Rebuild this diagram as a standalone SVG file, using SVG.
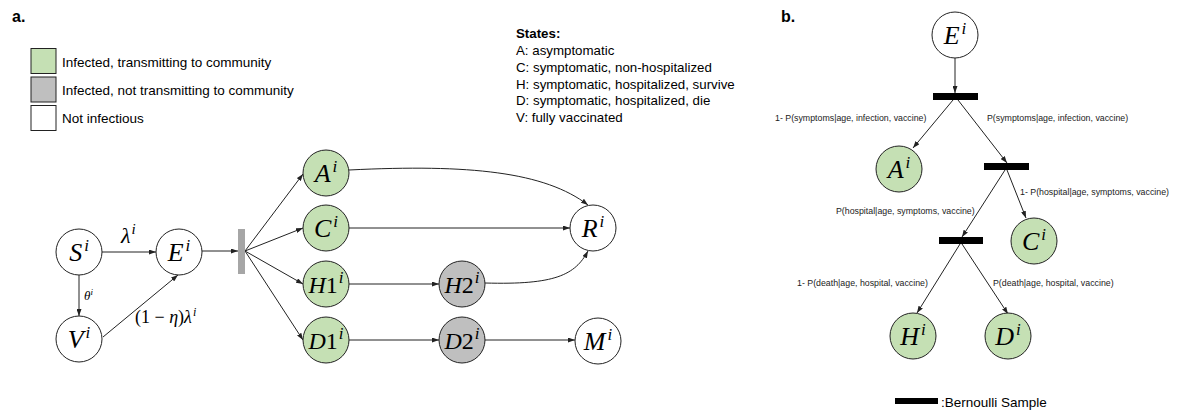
<svg xmlns="http://www.w3.org/2000/svg" width="1181" height="410" viewBox="0 0 1181 410">
<style>
.lbl{font-family:"Liberation Sans",Arial,sans-serif;fill:#000}
.leg{font-size:13.5px}
.st{font-size:13.3px}
.small{font-size:8.8px;fill:#222}
.bold{font-weight:bold}
.node{stroke:#222;stroke-width:1}
.g{fill:#c5e0b4}
.gr{fill:#bfbfbf}
.w{fill:#fff}
.m{font-family:"Liberation Serif","DejaVu Serif",serif;font-style:italic;font-size:26px;fill:#000}
.s{font-size:17px}
.up{font-style:normal}
.edge{fill:none;stroke:#222;stroke-width:1;marker-end:url(#ah)}
.bar{fill:#000}
</style>
<defs>
<marker id="ah" markerWidth="7" markerHeight="5" refX="7" refY="2.5" orient="auto" markerUnits="userSpaceOnUse">
<path d="M0,0 L7,2.5 L0,5 z" fill="#222"/>
</marker>
</defs>
<rect width="1181" height="410" fill="#fff"/>

<!-- Panel labels -->
<text class="lbl bold" x="12" y="22" font-size="16">a.</text>
<text class="lbl bold" x="781" y="22" font-size="16">b.</text>

<!-- Legend -->
<g id="legend">
<rect x="31" y="48.5" width="25" height="25" class="node g" stroke="#444"/>
<rect x="31" y="77" width="25" height="25" class="node gr" stroke="#444"/>
<rect x="31" y="105.5" width="25" height="25" class="node w" stroke="#444"/>
<text class="lbl leg" x="62" y="67">Infected, transmitting to community</text>
<text class="lbl leg" x="62" y="95">Infected, not transmitting to community</text>
<text class="lbl leg" x="62" y="123">Not infectious</text>
</g>

<!-- States -->
<g id="states">
<text class="lbl st bold" x="516" y="38">States:</text>
<text class="lbl st" x="516" y="55">A: asymptomatic</text>
<text class="lbl st" x="516" y="72">C: symptomatic, non-hospitalized</text>
<text class="lbl st" x="516" y="88.5">H: symptomatic, hospitalized, survive</text>
<text class="lbl st" x="516" y="105">D: symptomatic, hospitalized, die</text>
<text class="lbl st" x="516" y="122">V: fully vaccinated</text>
</g>

<!-- Panel a connectors -->
<g id="connectors-a">
<line class="edge" x1="102" y1="252" x2="156" y2="252"/>
<line class="edge" x1="79" y1="275" x2="79" y2="316"/>
<line class="edge" x1="103" y1="337" x2="178" y2="275"/>
<line class="edge" x1="202" y1="251" x2="238" y2="251"/>
<line class="edge" x1="245" y1="251" x2="303" y2="174"/>
<line class="edge" x1="245" y1="251" x2="303" y2="228"/>
<line class="edge" x1="245" y1="251" x2="303" y2="284"/>
<line class="edge" x1="245" y1="251" x2="303" y2="340"/>
<path class="edge" d="M349,170 C470,164 545,172 588,205"/>
<line class="edge" x1="349" y1="228" x2="570" y2="228"/>
<line class="edge" x1="349" y1="284" x2="439" y2="284"/>
<path class="edge" d="M485,283 C555,285 575,275 588,251"/>
<line class="edge" x1="349" y1="340" x2="439" y2="340"/>
<line class="edge" x1="485" y1="340" x2="575" y2="340"/>
<text class="m" x="121" y="243" style="font-size:22px">λ<tspan dx="1" dy="-9" style="font-size:15px">i</tspan></text>
<text class="m" x="84" y="300" style="font-size:13px">θ<tspan dy="-5" style="font-size:9px">i</tspan></text>
<text class="m" x="135" y="323" style="font-size:18px"><tspan class="up">(1 − </tspan>η<tspan class="up">)</tspan>λ<tspan dx="1" dy="-7" style="font-size:12px">i</tspan></text>
</g>

<!-- Transition bar -->
<g id="split-bar"><rect x="238" y="229" width="7" height="45" fill="#a6a6a6"/></g>

<!-- Panel a nodes -->
<g id="S"><circle cx="79" cy="252" r="23" class="node w"/><text class="m" x="79" y="261" text-anchor="middle">S<tspan class="s" dx="2" dy="-10">i</tspan></text></g>
<g id="E"><circle cx="179" cy="252" r="23" class="node w"/><text class="m" x="179" y="261" text-anchor="middle">E<tspan class="s" dx="2" dy="-10">i</tspan></text></g>
<g id="V"><circle cx="79" cy="339" r="23" class="node w"/><text class="m" x="79" y="348" text-anchor="middle">V<tspan class="s" dx="2" dy="-10">i</tspan></text></g>
<g id="A"><circle cx="326" cy="173" r="23" class="node g"/><text class="m" x="326" y="182" text-anchor="middle">A<tspan class="s" dx="2" dy="-10">i</tspan></text></g>
<g id="C"><circle cx="326" cy="228" r="23" class="node g"/><text class="m" x="326" y="237" text-anchor="middle">C<tspan class="s" dx="2" dy="-10">i</tspan></text></g>
<g id="H1"><circle cx="326" cy="284" r="23" class="node g"/><text class="m" x="326" y="293" text-anchor="middle" style="font-size:24px">H<tspan class="up">1</tspan><tspan class="s" dx="1" dy="-10">i</tspan></text></g>
<g id="D1"><circle cx="326" cy="340" r="23" class="node g"/><text class="m" x="326" y="349" text-anchor="middle" style="font-size:24px">D<tspan class="up">1</tspan><tspan class="s" dx="1" dy="-10">i</tspan></text></g>
<g id="H2"><circle cx="462" cy="284" r="23" class="node gr"/><text class="m" x="462" y="293" text-anchor="middle" style="font-size:24px">H<tspan class="up">2</tspan><tspan class="s" dx="1" dy="-10">i</tspan></text></g>
<g id="D2"><circle cx="462" cy="340" r="23" class="node gr"/><text class="m" x="462" y="349" text-anchor="middle" style="font-size:24px">D<tspan class="up">2</tspan><tspan class="s" dx="1" dy="-10">i</tspan></text></g>
<g id="R"><circle cx="593" cy="228" r="23" class="node w"/><text class="m" x="593" y="237" text-anchor="middle">R<tspan class="s" dx="2" dy="-10">i</tspan></text></g>
<g id="M"><circle cx="598" cy="341" r="23" class="node w"/><text class="m" x="598" y="350" text-anchor="middle">M<tspan class="s" dx="2" dy="-10">i</tspan></text></g>

<!-- Panel b connectors -->
<g id="connectors-b">
<line class="edge" x1="955" y1="58" x2="955" y2="93"/>
<line class="edge" x1="953" y1="100" x2="913" y2="148"/>
<line class="edge" x1="958" y1="100" x2="1007" y2="163"/>
<line class="edge" x1="1005" y1="170" x2="962" y2="237"/>
<line class="edge" x1="1007" y1="170" x2="1026" y2="218"/>
<line class="edge" x1="960" y1="244" x2="917" y2="313"/>
<line class="edge" x1="962" y1="244" x2="1008" y2="314"/>
<text class="lbl small" x="775" y="121">1- P(symptoms|age, infection, vaccine)</text>
<text class="lbl small" x="987" y="121">P(symptoms|age, infection, vaccine)</text>
<text class="lbl small" x="1020" y="195">1- P(hospital|age, symptoms, vaccine)</text>
<text class="lbl small" x="836" y="214">P(hospital|age, symptoms, vaccine)</text>
<text class="lbl small" x="797" y="286">1- P(death|age, hospital, vaccine)</text>
<text class="lbl small" x="993" y="286">P(death|age, hospital, vaccine)</text>
</g>

<!-- Bernoulli bars -->
<g id="bern1"><rect class="bar" x="933" y="93" width="45" height="7"/></g>
<g id="bern2"><rect class="bar" x="984" y="163" width="45" height="7"/></g>
<g id="bern3"><rect class="bar" x="939" y="237" width="44" height="7"/></g>

<!-- Panel b nodes -->
<g id="bE"><circle cx="955" cy="35" r="23" class="node w"/><text class="m" x="955" y="44" text-anchor="middle">E<tspan class="s" dx="2" dy="-10">i</tspan></text></g>
<g id="bA"><circle cx="899" cy="169" r="23" class="node g"/><text class="m" x="899" y="178" text-anchor="middle">A<tspan class="s" dx="2" dy="-10">i</tspan></text></g>
<g id="bC"><circle cx="1034" cy="241" r="23" class="node g"/><text class="m" x="1034" y="250" text-anchor="middle">C<tspan class="s" dx="2" dy="-10">i</tspan></text></g>
<g id="bH"><circle cx="913" cy="336" r="23" class="node g"/><text class="m" x="913" y="345" text-anchor="middle">H<tspan class="s" dx="2" dy="-10">i</tspan></text></g>
<g id="bD"><circle cx="1008" cy="336" r="23" class="node g"/><text class="m" x="1008" y="345" text-anchor="middle">D<tspan class="s" dx="2" dy="-10">i</tspan></text></g>

<!-- Bernoulli legend -->
<g id="bern-legend">
<rect class="bar" x="895" y="398" width="43" height="6"/>
<text class="lbl leg" x="941" y="407">:Bernoulli Sample</text>
</g>
</svg>
